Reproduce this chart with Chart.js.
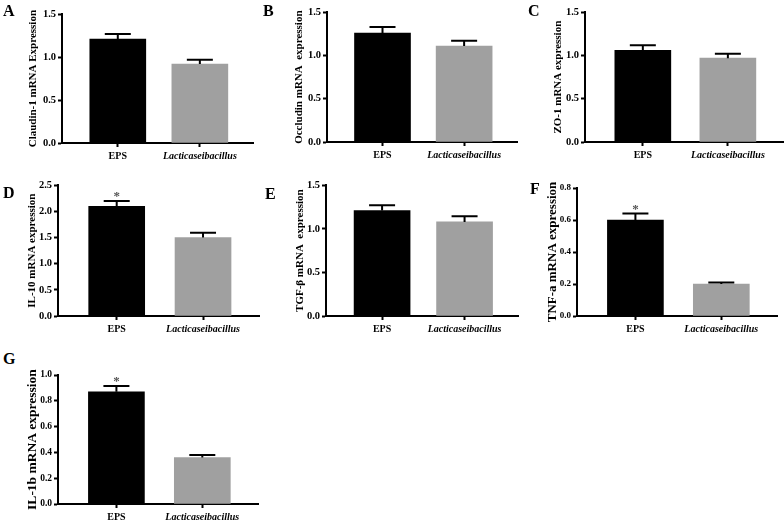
<!DOCTYPE html>
<html>
<head>
<meta charset="utf-8">
<script src="https://cdn.jsdelivr.net/npm/chart.js@4"></script>
<style>
  body { margin: 0; background: #fff; }
  #page { position: relative; width: 784px; height: 520px; overflow: hidden; }
  #page canvas { position: absolute; }
  .letter { position: absolute; font: bold 16px 'Liberation Serif', serif; line-height: 16px; color: #000; }
</style>
</head>
<body>
<div id="page"></div>
<script>
// groups on the x axis
const categories = ['EPS', 'Lacticaseibacillus'];

// mean and SEM
const claudinMean = [1.21, 0.92];
const claudinErr = [0.06, 0.05];
const occludinMean = [1.26, 1.11];
const occludinErr = [0.07, 0.06];
const zo1Mean = [1.06, 0.97];
const zo1Err = [0.06, 0.05];
const il10Mean = [2.10, 1.50];
const il10Err = [0.10, 0.09];
const tgfMean = [1.21, 1.08];
const tgfErr = [0.06, 0.065];
const tnfMean = [0.60, 0.20];
const tnfErr = [0.04, 0.01];
const il1bMean = [0.87, 0.36];
const il1bErr = [0.045, 0.02];

// significance marks
const noStars = ['', ''];
const epsStar = ['*', ''];

// y axis ranges
const yMaxA = 1.5, yStepA = 0.5;
const yMaxD = 2.5, yStepD = 0.5;
const yMaxF = 0.8, yStepF = 0.2;
const yMaxG = 1.0, yStepG = 0.2;

const barColors = ['#000000', '#a0a0a0'];
const serif = "'Liberation Serif', 'Times New Roman', serif";

// panel layout: axis x, top tick y, zero y, right end of x axis, title centre x
let panels = [
    { letter: 'A', lx: 3, ly: 3, title: 'Claudin-1 mRNA Expression', tsize: 11, ksize: 10.5, mean: claudinMean, err: claudinErr, stars: noStars, max: yMaxA, step: yStepA, ax: 62, top: 14, zero: 142.5, right: 254, tx: 33 },
    { letter: 'B', lx: 263, ly: 3, title: 'Occludin mRNA  expression', tsize: 11, ksize: 10.5, mean: occludinMean, err: occludinErr, stars: noStars, max: yMaxA, step: yStepA, ax: 327, top: 12, zero: 142, right: 518, tx: 299 },
    { letter: 'C', lx: 528, ly: 3, title: 'ZO-1 mRNA expression', tsize: 11, ksize: 10.5, mean: zo1Mean, err: zo1Err, stars: noStars, max: yMaxA, step: yStepA, ax: 585, top: 12, zero: 142, right: 784, tx: 558 },
    { letter: 'D', lx: 3, ly: 185, title: 'IL-10 mRNA expression', tsize: 11, ksize: 10.5, mean: il10Mean, err: il10Err, stars: epsStar, max: yMaxD, step: yStepD, ax: 58, top: 185, zero: 316, right: 260, tx: 32 },
    { letter: 'E', lx: 265, ly: 186, title: 'TGF-\u03b2 mRNA  expression', tsize: 11, ksize: 10.5, mean: tgfMean, err: tgfErr, stars: noStars, max: yMaxA, step: yStepA, ax: 326, top: 185, zero: 316, right: 519, tx: 300 },
    { letter: 'F', lx: 530, ly: 181, title: 'TNF-a mRNA expression', tsize: 13, ksize: 9, mean: tnfMean, err: tnfErr, stars: epsStar, max: yMaxF, step: yStepF, ax: 577, top: 188, zero: 316, right: 778, tx: 553 },
    { letter: 'G', lx: 3, ly: 351, title: 'IL-1b mRNA expression', tsize: 13.5, ksize: 9.5, mean: il1bMean, err: il1bErr, stars: epsStar, max: yMaxG, step: yStepG, ax: 58, top: 375, zero: 504, right: 259, tx: 33 },
];

const yAxisW = 50;
const padTop = 8;
const xAxisH = 28;

// error bars (upwards only) and significance stars
const errorBars = {
    id: 'errorBars',
    afterDatasetsDraw(chart, args, opts) {
        const ctx = chart.ctx;
        const y = chart.scales.y;
        const meta = chart.getDatasetMeta(0);
        ctx.save();
        ctx.strokeStyle = '#000';
        ctx.lineWidth = 2;
        meta.data.forEach((bar, i) => {
            const topY = y.getPixelForValue(opts.mean[i] + opts.err[i]);
            ctx.beginPath();
            ctx.moveTo(bar.x, bar.y);
            ctx.lineTo(bar.x, topY);
            ctx.moveTo(bar.x - 13, topY);
            ctx.lineTo(bar.x + 13, topY);
            ctx.stroke();
            if (opts.stars[i]) {
                ctx.fillStyle = '#555';
                ctx.font = 'bold 13px ' + serif;
                ctx.textAlign = 'center';
                ctx.textBaseline = 'alphabetic';
                ctx.fillText(opts.stars[i], bar.x, topY - 0.5);
            }
        });
        ctx.restore();
    }
};

const page = document.getElementById('page');

for (let i = 0; i < panels.length; i++) {
    const p = panels[i];
    const left = p.ax - yAxisW;
    const canvas = document.createElement('canvas');
    canvas.width = Math.round(p.right - left);
    canvas.height = Math.round(padTop + (p.zero - p.top) + xAxisH);
    canvas.style.left = left + 'px';
    canvas.style.top = (p.top - padTop) + 'px';
    page.appendChild(canvas);

    const letter = document.createElement('div');
    letter.className = 'letter';
    letter.textContent = p.letter;
    letter.style.left = p.lx + 'px';
    letter.style.top = p.ly + 'px';
    page.appendChild(letter);

    new Chart(canvas.getContext('2d'), {
        type: 'bar',
        data: {
            datasets: [{
                data: p.mean.map((v, k) => ({ x: k, y: v })),
                backgroundColor: barColors,
                barThickness: 56,
                borderWidth: 0
            }]
        },
        options: {
            responsive: false,
            animation: false,
            layout: { padding: { top: padTop, right: 0, left: 0, bottom: 0 } },
            plugins: {
                legend: { display: false },
                tooltip: { enabled: false },
                errorBars: { mean: p.mean, err: p.err, stars: p.stars }
            },
            scales: {
                x: {
                    type: 'linear',
                    min: -0.68,
                    max: 1.66,
                    offset: false,
                    grid: { offset: false, drawOnChartArea: false, drawTicks: true, tickLength: 4, tickWidth: 2, tickColor: '#000' },
                    border: { display: true, color: '#000', width: 2 },
                    afterBuildTicks: s => { s.ticks = categories.map((c, k) => ({ value: k })); },
                    afterFit: s => { s.height = xAxisH; },
                    ticks: {
                        autoSkip: false,
                        maxRotation: 0,
                        minRotation: 0,
                        padding: 3,
                        color: '#000',
                        callback: v => categories[v],
                        font: c => ({ family: serif, size: 10, weight: 'bold', style: c.index === 1 ? 'italic' : 'normal' })
                    }
                },
                y: {
                    min: 0,
                    max: p.max,
                    grid: { drawOnChartArea: false, drawTicks: true, tickLength: 4, tickWidth: 2, tickColor: '#000' },
                    border: { display: true, color: '#000', width: 2 },
                    afterFit: s => { s.width = yAxisW; },
                    ticks: {
                        stepSize: p.step,
                        padding: 2,
                        color: '#000',
                        font: { family: serif, size: p.ksize, weight: 'bold' },
                        callback: v => v.toFixed(1)
                    },
                    title: {
                        display: true,
                        text: p.title,
                        color: '#000',
                        font: { family: serif, size: p.tsize, weight: 'bold' },
                        padding: { top: Math.max(0, p.tx - left - p.tsize * 0.6), bottom: 0 }
                    }
                }
            }
        },
        plugins: [errorBars]
    });
}
</script>
</body>
</html>
